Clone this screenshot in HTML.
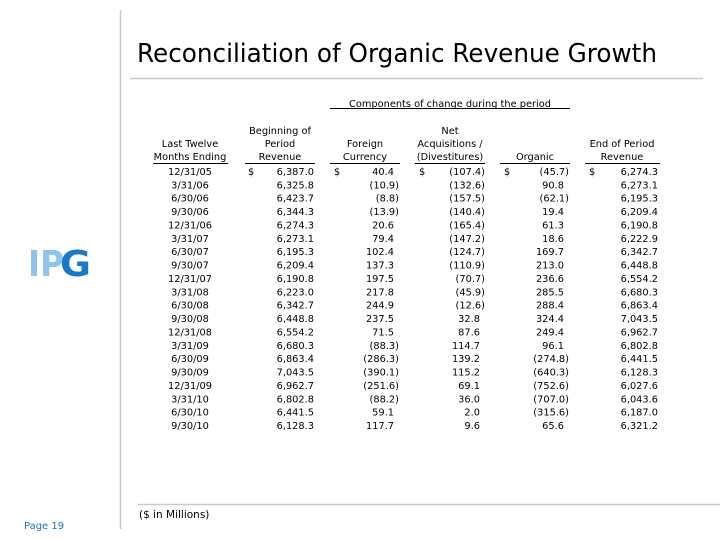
<!DOCTYPE html>
<html><head><meta charset="utf-8"><style>
html,body{margin:0;padding:0;background:#fff;}
svg{display:block;}
.t{font-family:"DejaVu Sans","Liberation Sans",sans-serif;font-size:9.8px;fill:#000;}
.c{text-anchor:middle}.e{text-anchor:end}
</style></head><body>
<svg width="720" height="540" viewBox="0 0 720 540" xmlns="http://www.w3.org/2000/svg">
<line x1="120.5" y1="10" x2="120.5" y2="529" stroke="#c8c8d0" stroke-width="1.5"/>
<line x1="130" y1="78.5" x2="703" y2="78.5" stroke="#c8c8d0" stroke-width="1.5"/>
<line x1="138" y1="504.5" x2="720" y2="504.5" stroke="#c8c8d0" stroke-width="1.5"/>
<text x="137" y="62" font-family="DejaVu Sans,sans-serif" font-size="26" textLength="520" lengthAdjust="spacingAndGlyphs">Reconciliation of Organic Revenue Growth</text>
<text x="28" y="276" font-family="DejaVu Sans,sans-serif" font-weight="bold" font-size="36" fill="#8fc3ec" textLength="36" lengthAdjust="spacingAndGlyphs">IP</text>
<text x="60" y="276" font-family="DejaVu Sans,sans-serif" font-weight="bold" font-size="36" fill="#1a79c7" textLength="31" lengthAdjust="spacingAndGlyphs">G</text>
<text x="24" y="529" font-family="DejaVu Sans,sans-serif" font-size="10" fill="#1a6fc7">Page 19</text>
<text x="139" y="518" font-family="DejaVu Sans,sans-serif" font-size="10.5">($ in Millions)</text>
<g class="t">
<text x="450" y="107" class="c">Components of change during the period</text>
<line x1="330" y1="108.5" x2="570" y2="108.5" stroke="#000"/>
<text x="190" y="147" class="c">Last Twelve</text><text x="190" y="160" class="c">Months Ending</text>
<text x="280" y="134" class="c">Beginning of</text><text x="280" y="147" class="c">Period</text><text x="280" y="160" class="c">Revenue</text>
<text x="365" y="147" class="c">Foreign</text><text x="365" y="160" class="c">Currency</text>
<text x="450" y="134" class="c">Net</text><text x="450" y="147" class="c">Acquisitions /</text><text x="450" y="160" class="c">(Divestitures)</text>
<text x="535" y="160" class="c">Organic</text>
<text x="622" y="147" class="c">End of Period</text><text x="622" y="160" class="c">Revenue</text>
<g stroke="#000">
<line x1="153" y1="163.5" x2="228" y2="163.5"/><line x1="245" y1="163.5" x2="315" y2="163.5"/>
<line x1="330" y1="163.5" x2="400" y2="163.5"/><line x1="415" y1="163.5" x2="485" y2="163.5"/>
<line x1="500" y1="163.5" x2="570" y2="163.5"/><line x1="585" y1="163.5" x2="660" y2="163.5"/>
</g>
<text x="248" y="175">$</text><text x="334" y="175">$</text><text x="419" y="175">$</text><text x="504" y="175">$</text><text x="589" y="175">$</text>

<g transform="translate(0,175)"><text x="190" class="c">12/31/05</text><text x="314" class="e">6,387.0</text><text x="394" class="e">40.4</text><text x="485" class="e">(107.4)</text><text x="569" class="e">(45.7)</text><text x="658" class="e">6,274.3</text></g>
<g transform="translate(0,188.4)"><text x="190" class="c">3/31/06</text><text x="314" class="e">6,325.8</text><text x="399" class="e">(10.9)</text><text x="485" class="e">(132.6)</text><text x="564" class="e">90.8</text><text x="658" class="e">6,273.1</text></g>
<g transform="translate(0,201.7)"><text x="190" class="c">6/30/06</text><text x="314" class="e">6,423.7</text><text x="399" class="e">(8.8)</text><text x="485" class="e">(157.5)</text><text x="569" class="e">(62.1)</text><text x="658" class="e">6,195.3</text></g>
<g transform="translate(0,215.1)"><text x="190" class="c">9/30/06</text><text x="314" class="e">6,344.3</text><text x="399" class="e">(13.9)</text><text x="485" class="e">(140.4)</text><text x="564" class="e">19.4</text><text x="658" class="e">6,209.4</text></g>
<g transform="translate(0,228.5)"><text x="190" class="c">12/31/06</text><text x="314" class="e">6,274.3</text><text x="394" class="e">20.6</text><text x="485" class="e">(165.4)</text><text x="564" class="e">61.3</text><text x="658" class="e">6,190.8</text></g>
<g transform="translate(0,241.9)"><text x="190" class="c">3/31/07</text><text x="314" class="e">6,273.1</text><text x="394" class="e">79.4</text><text x="485" class="e">(147.2)</text><text x="564" class="e">18.6</text><text x="658" class="e">6,222.9</text></g>
<g transform="translate(0,255.2)"><text x="190" class="c">6/30/07</text><text x="314" class="e">6,195.3</text><text x="394" class="e">102.4</text><text x="485" class="e">(124.7)</text><text x="564" class="e">169.7</text><text x="658" class="e">6,342.7</text></g>
<g transform="translate(0,268.6)"><text x="190" class="c">9/30/07</text><text x="314" class="e">6,209.4</text><text x="394" class="e">137.3</text><text x="485" class="e">(110.9)</text><text x="564" class="e">213.0</text><text x="658" class="e">6,448.8</text></g>
<g transform="translate(0,282)"><text x="190" class="c">12/31/07</text><text x="314" class="e">6,190.8</text><text x="394" class="e">197.5</text><text x="485" class="e">(70.7)</text><text x="564" class="e">236.6</text><text x="658" class="e">6,554.2</text></g>
<g transform="translate(0,295.3)"><text x="190" class="c">3/31/08</text><text x="314" class="e">6,223.0</text><text x="394" class="e">217.8</text><text x="485" class="e">(45.9)</text><text x="564" class="e">285.5</text><text x="658" class="e">6,680.3</text></g>
<g transform="translate(0,308.7)"><text x="190" class="c">6/30/08</text><text x="314" class="e">6,342.7</text><text x="394" class="e">244.9</text><text x="485" class="e">(12.6)</text><text x="564" class="e">288.4</text><text x="658" class="e">6,863.4</text></g>
<g transform="translate(0,322.1)"><text x="190" class="c">9/30/08</text><text x="314" class="e">6,448.8</text><text x="394" class="e">237.5</text><text x="480" class="e">32.8</text><text x="564" class="e">324.4</text><text x="658" class="e">7,043.5</text></g>
<g transform="translate(0,335.4)"><text x="190" class="c">12/31/08</text><text x="314" class="e">6,554.2</text><text x="394" class="e">71.5</text><text x="480" class="e">87.6</text><text x="564" class="e">249.4</text><text x="658" class="e">6,962.7</text></g>
<g transform="translate(0,348.8)"><text x="190" class="c">3/31/09</text><text x="314" class="e">6,680.3</text><text x="399" class="e">(88.3)</text><text x="480" class="e">114.7</text><text x="564" class="e">96.1</text><text x="658" class="e">6,802.8</text></g>
<g transform="translate(0,362.2)"><text x="190" class="c">6/30/09</text><text x="314" class="e">6,863.4</text><text x="399" class="e">(286.3)</text><text x="480" class="e">139.2</text><text x="569" class="e">(274.8)</text><text x="658" class="e">6,441.5</text></g>
<g transform="translate(0,375.6)"><text x="190" class="c">9/30/09</text><text x="314" class="e">7,043.5</text><text x="399" class="e">(390.1)</text><text x="480" class="e">115.2</text><text x="569" class="e">(640.3)</text><text x="658" class="e">6,128.3</text></g>
<g transform="translate(0,388.9)"><text x="190" class="c">12/31/09</text><text x="314" class="e">6,962.7</text><text x="399" class="e">(251.6)</text><text x="480" class="e">69.1</text><text x="569" class="e">(752.6)</text><text x="658" class="e">6,027.6</text></g>
<g transform="translate(0,402.3)"><text x="190" class="c">3/31/10</text><text x="314" class="e">6,802.8</text><text x="399" class="e">(88.2)</text><text x="480" class="e">36.0</text><text x="569" class="e">(707.0)</text><text x="658" class="e">6,043.6</text></g>
<g transform="translate(0,415.7)"><text x="190" class="c">6/30/10</text><text x="314" class="e">6,441.5</text><text x="394" class="e">59.1</text><text x="480" class="e">2.0</text><text x="569" class="e">(315.6)</text><text x="658" class="e">6,187.0</text></g>
<g transform="translate(0,429)"><text x="190" class="c">9/30/10</text><text x="314" class="e">6,128.3</text><text x="394" class="e">117.7</text><text x="480" class="e">9.6</text><text x="564" class="e">65.6</text><text x="658" class="e">6,321.2</text></g>
</g>
</svg>
</body></html>
